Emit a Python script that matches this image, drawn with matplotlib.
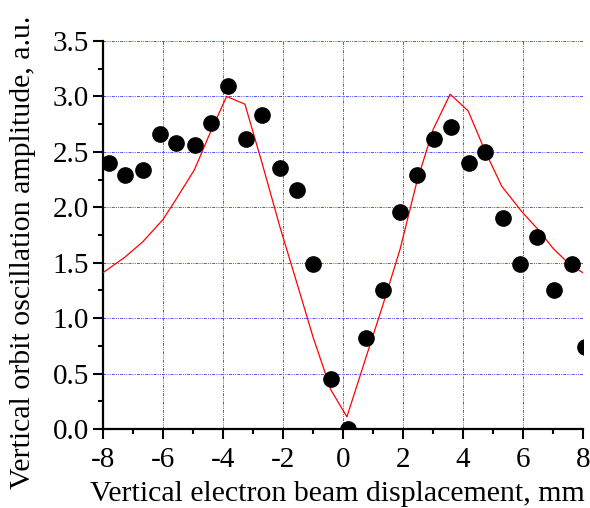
import matplotlib
matplotlib.use("Agg")
import matplotlib.pyplot as plt
from matplotlib.ticker import MultipleLocator

plt.rcParams["font.family"] = "Liberation Serif"
plt.rcParams["axes.unicode_minus"] = False

# measured amplitude (black dots)
x_meas = [-7.8, -7.27, -6.67, -6.1, -5.57, -4.93, -4.4, -3.83, -3.23, -2.7,
          -2.1, -1.53, -1.0, -0.4, 0.17, 0.77, 1.33, 1.9, 2.47, 3.03,
          3.6, 4.2, 4.73, 5.33, 5.9, 6.47, 7.03, 7.63, 8.07]
y_meas = [2.40, 2.29, 2.34, 2.66, 2.58, 2.56, 2.76, 3.09, 2.62, 2.83,
          2.35, 2.16, 1.49, 0.45, 0.0, 0.82, 1.25, 1.96, 2.29, 2.62,
          2.72, 2.40, 2.50, 1.90, 1.49, 1.73, 1.25, 1.49, 0.74]

# calculated curve (red line)
x_calc = [-8.0, -7.27, -6.67, -6.0, -5.57, -4.95, -4.4, -3.88, -3.27, -2.7,
          -2.1, -1.53, -1.0, -0.4, 0.13, 0.77, 1.33, 1.9, 2.47, 3.0,
          3.57, 4.17, 4.73, 5.29, 5.96, 6.5, 7.0, 7.57, 8.0]
y_calc = [1.41, 1.55, 1.69, 1.89, 2.07, 2.34, 2.69, 3.0, 2.93, 2.40,
          1.82, 1.31, 0.83, 0.35, 0.11, 0.65, 1.12, 1.62, 2.24, 2.70,
          3.02, 2.87, 2.51, 2.19, 1.96, 1.80, 1.63, 1.48, 1.41]

fig = plt.figure(figsize=(5.9, 5.08), dpi=100)
ax = fig.add_axes([0.1746, 0.1555, 0.8136, 0.7638])

ax.plot(x_calc, y_calc, color="red", lw=0.9, zorder=3)
ax.plot(x_meas, y_meas, "o", color="black", ms=11, zorder=4)

ax.set_xlim(-8, 8)
ax.set_ylim(0, 3.5)
ax.xaxis.set_major_locator(MultipleLocator(2))
ax.xaxis.set_minor_locator(MultipleLocator(1))
ax.yaxis.set_major_locator(MultipleLocator(0.5))
ax.yaxis.set_minor_locator(MultipleLocator(0.25))
ax.yaxis.set_major_formatter(matplotlib.ticker.FormatStrFormatter("%.1f"))

ax.grid(True, which="major", color="#5050ff", lw=0.7,
        linestyle=(0, (3, 1.2, 1, 1.2, 1, 1.2)), zorder=1)

for side in ["top", "right"]:
    ax.spines[side].set_visible(False)
for side in ["left", "bottom"]:
    ax.spines[side].set_linewidth(1.6)

ax.tick_params(which="major", direction="out", length=7, width=1.5,
               labelsize=21)
ax.tick_params(axis="x", which="major", pad=6)
ax.tick_params(axis="y", which="major", pad=3)
ax.tick_params(which="minor", direction="out", length=3.5, width=1.5)

ax.set_xlabel("Vertical electron beam displacement, mm", fontsize=21.5, labelpad=2)
ax.set_ylabel("Vertical orbit oscillation amplitude, a.u.", fontsize=21.5, labelpad=4)
ax.xaxis.set_label_coords(0.488, -0.135)
ax.yaxis.set_label_coords(-0.14, 0.455)

plt.savefig("out.png", dpi=100)
plt.close()
